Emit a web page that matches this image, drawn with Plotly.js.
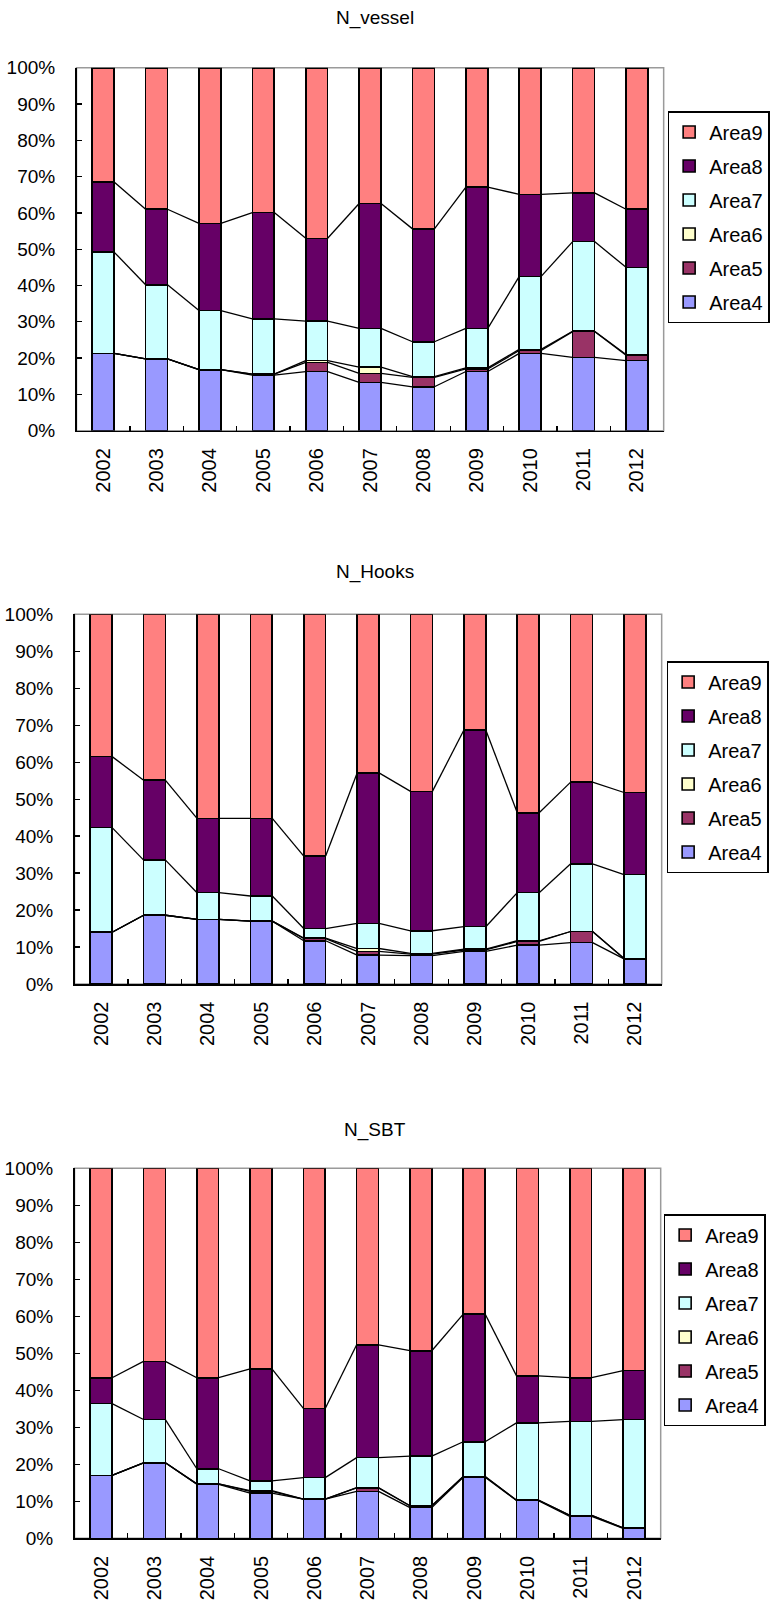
<!DOCTYPE html>
<html>
<head>
<meta charset="utf-8">
<script src="https://cdn.plot.ly/plotly-3.0.1.min.js"></script>
<style>html,body{margin:0;padding:0;background:#fff;}#chart{width:770px;height:1600px;}</style>
</head>
<body>
<div id="chart"></div>
<script>
// Categories
const years = ['2002','2003','2004','2005','2006','2007','2008','2009','2010','2011','2012'];
const areaNames = ['Area4','Area5','Area6','Area7','Area8','Area9'];
const areaColors = ['#9999FF','#993366','#FFFFCC','#CCFFFF','#660066','#FF8080'];
const yTicks = [0,10,20,30,40,50,60,70,80,90,100];

// N_vessel (% share)
const vesselArea4 = [21.3,19.8,16.8,15.3,16.3,13.3,12.1,16.3,21.3,20.2,19.3];
const vesselArea5 = [0.0,0.0,0.0,0.3,2.5,2.5,2.6,0.7,0.8,7.1,1.5];
const vesselArea6 = [0.0,0.0,0.0,0.0,0.5,1.7,0.2,0.3,0.3,0.1,0.2];
const vesselArea7 = [27.9,20.4,16.3,15.2,10.9,10.7,9.6,10.9,20.1,24.7,24.0];
const vesselArea8 = [19.3,20.8,24.0,29.3,22.8,34.4,31.1,38.9,22.6,13.4,16.0];
const vesselArea9 = [31.5,39.0,42.9,39.9,47.0,37.4,44.4,32.9,34.9,34.5,39.0];

// N_Hooks (% share)
const hooksArea4 = [14.0,18.6,17.5,17.0,11.7,7.8,7.7,8.8,10.5,11.2,6.8];
const hooksArea5 = [0.0,0.0,0.0,0.0,0.6,1.0,0.4,0.4,1.0,3.0,0.1];
const hooksArea6 = [0.0,0.0,0.0,0.0,0.1,0.8,0.2,0.2,0.2,0.0,0.0];
const hooksArea7 = [28.3,14.9,7.2,6.8,2.6,6.8,6.1,6.1,13.0,18.3,22.7];
const hooksArea8 = [19.2,21.6,20.1,21.0,19.6,40.7,37.7,53.2,21.6,22.1,22.2];
const hooksArea9 = [38.5,44.9,55.2,55.2,65.4,42.9,47.9,31.3,53.7,45.4,48.2];

// N_SBT (% share)
const sbtArea4 = [17.0,20.4,14.6,12.2,10.6,12.7,8.3,16.5,10.2,5.9,2.7];
const sbtArea5 = [0.0,0.0,0.1,0.5,0.0,0.9,0.5,0.2,0.1,0.3,0.1];
const sbtArea6 = [0.0,0.0,0.0,0.2,0.0,0.1,0.0,0.0,0.0,0.0,0.0];
const sbtArea7 = [19.4,11.7,4.1,2.6,5.8,8.1,13.4,9.4,20.9,25.4,29.3];
const sbtArea8 = [7.0,15.7,24.6,30.3,18.7,30.5,28.5,34.5,12.7,11.8,13.2];
const sbtArea9 = [56.6,52.2,56.6,54.2,64.9,47.7,49.3,39.4,56.1,56.6,54.7];

const charts = [
  {title:'N_vessel', series:[vesselArea4,vesselArea5,vesselArea6,vesselArea7,vesselArea8,vesselArea9],
   px:[77,668], py:[67.7,430.7], titleY:18, legX:672, legY:111},
  {title:'N_Hooks', series:[hooksArea4,hooksArea5,hooksArea6,hooksArea7,hooksArea8,hooksArea9],
   px:[75,666], py:[614.3,984], titleY:572, legX:671, legY:661},
  {title:'N_SBT', series:[sbtArea4,sbtArea5,sbtArea6,sbtArea7,sbtArea8,sbtArea9],
   px:[75,665], py:[1168.3,1538.3], titleY:1130, legX:668, legY:1214}
];

const W = 770, H = 1600;
const barW = 0.41;
const FONT = 'Liberation Sans, Arial, sans-serif';
const xIdx = years.map((_, i) => i);
const boundaries = years.slice(0, -1).map((_, i) => i + 0.5);

const data = [];
const layout = {
  width: W, height: H, margin: {l:0, r:0, t:0, b:0},
  paper_bgcolor: '#fff', plot_bgcolor: '#fff',
  barmode: 'stack', showlegend: true,
  font: {family: FONT, color: '#000'},
  annotations: [], shapes: []
};

charts.forEach((c, ci) => {
  const n = ci + 1;
  const xa = n === 1 ? 'x' : 'x' + n;
  const ya = n === 1 ? 'y' : 'y' + n;
  const legName = n === 1 ? 'legend' : 'legend' + n;

  c.series.forEach((vals, k) => {
    data.push({
      type: 'bar', x: xIdx, y: vals, width: barW,
      name: areaNames[k], xaxis: xa, yaxis: ya,
      legend: legName, legendgroup: 'c' + n + 'g' + k,
      legendrank: 100 - k,
      marker: {color: areaColors[k], line: {color: '#000', width: 1.6}},
      hoverinfo: 'name+y'
    });
  });

  // series lines connecting the stack boundaries between adjacent bars
  const cum = [];
  let run = years.map(() => 0);
  for (let k = 0; k < 5; k++) {
    run = run.map((v, i) => v + c.series[k][i]);
    cum.push(run.slice());
  }
  cum.forEach(level => {
    const lx = [], ly = [];
    for (let i = 0; i < years.length - 1; i++) {
      lx.push(i + barW / 2, i + 1 - barW / 2, null);
      ly.push(level[i], level[i + 1], null);
    }
    data.push({type: 'scatter', mode: 'lines', x: lx, y: ly, xaxis: xa, yaxis: ya,
      line: {color: '#000', width: 1.3}, showlegend: false, hoverinfo: 'skip', cliponaxis: false});
  });

  const xKey = n === 1 ? 'xaxis' : 'xaxis' + n;
  const yKey = n === 1 ? 'yaxis' : 'yaxis' + n;
  layout[xKey] = {
    domain: [c.px[0] / W, c.px[1] / W], anchor: ya,
    range: [-0.5, years.length - 0.5], fixedrange: true,
    tickmode: 'array', tickvals: xIdx, ticktext: years, tickangle: -90,
    ticks: '', ticklabelstandoff: 8,
    tickfont: {size: 20, family: FONT, color: '#000'},
    showline: true, linecolor: '#000', linewidth: 1.5,
    showgrid: false, zeroline: false,
    minor: {tickmode: 'array', tickvals: boundaries, ticks: 'inside', ticklen: 5, tickcolor: '#000', tickwidth: 1.3, showgrid: false}
  };
  layout[yKey] = {
    domain: [1 - c.py[1] / H, 1 - c.py[0] / H], anchor: xa,
    range: [0, 100], fixedrange: true,
    tickmode: 'array', tickvals: yTicks, ticktext: yTicks.map(v => v + '%'),
    ticks: 'inside', ticklen: 5, tickcolor: '#000', tickwidth: 1.3,
    ticklabelstandoff: 16,
    tickfont: {size: 19, family: FONT, color: '#000'},
    showline: true, linecolor: '#000', linewidth: 1.5,
    showgrid: false, zeroline: false
  };
  layout.shapes.push({type: 'rect', xref: xa + ' domain', yref: ya + ' domain', x0: 0, x1: 1, y0: 0, y1: 1,
    line: {color: '#9a9a9a', width: 1.5}, layer: 'below'});
  layout.annotations.push({text: c.title, xref: 'paper', yref: 'paper', x: 377 / W, y: 1 - c.titleY / H,
    xanchor: 'center', yanchor: 'middle', showarrow: false, font: {size: 19, family: FONT, color: '#000'}});
  layout[legName] = {
    x: c.legX / W, y: 1 - c.legY / H, xanchor: 'left', yanchor: 'top',
    xref: 'paper', yref: 'paper',
    bgcolor: '#fff', bordercolor: '#000', borderwidth: 1.5,
    font: {size: 20, family: FONT, color: '#000'},
    traceorder: 'grouped', tracegroupgap: 5, itemwidth: 30
  };
});

Plotly.newPlot('chart', data, layout, {staticPlot: true, displayModeBar: false});
</script>
</body>
</html>
